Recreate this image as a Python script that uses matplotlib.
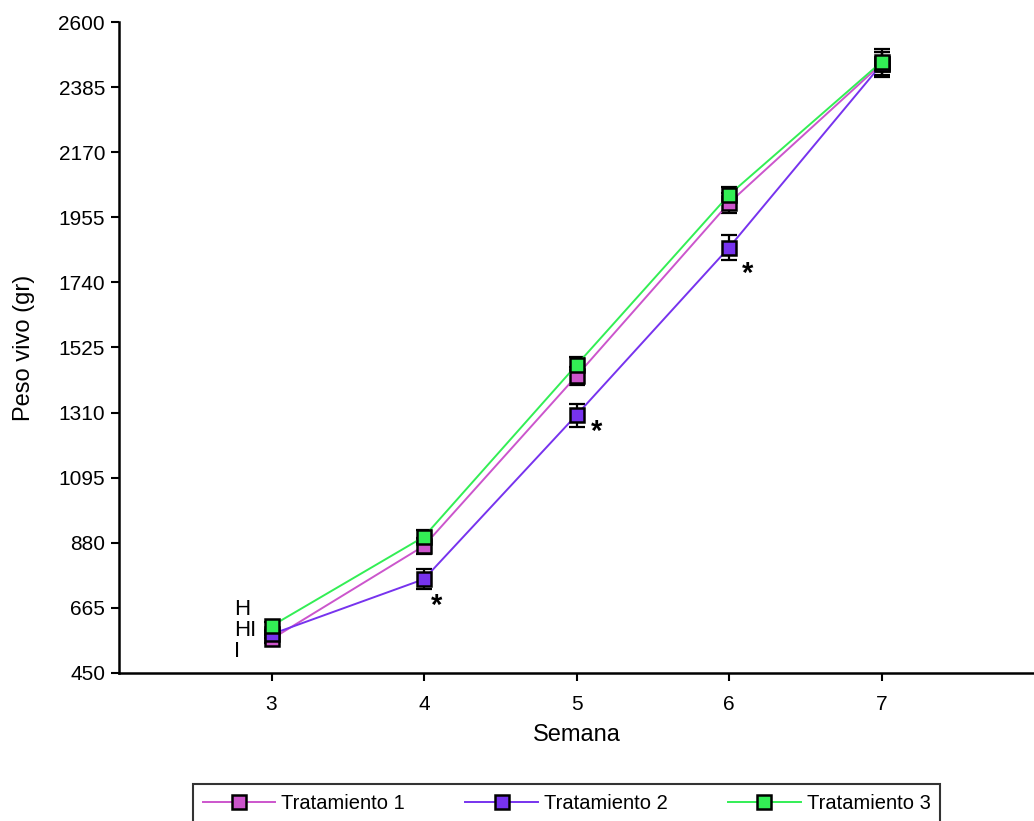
import matplotlib
matplotlib.use("Agg")
import matplotlib.pyplot as plt

plt.rcParams['font.family'] = ['Liberation Sans', 'DejaVu Sans']

semanas = [3, 4, 5, 6, 7]
tratamientos = ["Tratamiento 1", "Tratamiento 2", "Tratamiento 3"]
peso_t1 = [562, 870, 1431, 2002, 2462]
peso_t2 = [578, 760, 1302, 1855, 2460]
peso_t3 = [605, 900, 1467, 2029, 2468]
ee_t1 = [12, 26, 30, 32, 40]
ee_t2 = [12, 33, 38, 42, 40]
ee_t3 = [12, 22, 25, 26, 44]
colores = ["#CC55CC", "#7733EE", "#33EE55"]

# asteriscos de diferencia significativa
ast_x = [4.08, 5.13, 6.12]
ast_y = [670, 1245, 1768]
# letras de la semana 3
letras = ["H", "HI", "I"]
letras_y = [661, 589, 522]

yticks = [450, 665, 880, 1095, 1310, 1525, 1740, 1955, 2170, 2385, 2600]

fig = plt.figure(figsize=(10.34, 8.21), dpi=100)
ax = fig.add_axes([119/1034, 1 - 673/821, 915/1034, 651/821])

series = [peso_t1, peso_t2, peso_t3]
errores = [ee_t1, ee_t2, ee_t3]
handles = []
for nombre, y, e, c in zip(tratamientos, series, errores, colores):
    ax.errorbar(semanas, y, yerr=e, fmt='none', ecolor='black', elinewidth=1.6,
                capsize=6, capthick=1.6, zorder=2)
    h, = ax.plot(semanas, y, color=c, lw=1.4, marker='s', markersize=9.5,
                 markerfacecolor=c, markeredgecolor='black', markeredgewidth=1.8,
                 label=nombre, zorder=3)
    handles.append(h)

for x, y in zip(ast_x, ast_y):
    ax.text(x, y, "*", fontsize=21, fontweight='bold', ha='center', va='center')
for t, y in zip(letras, letras_y):
    ax.text(2.755, y, t, fontsize=16, ha='left', va='center')

ax.set_xlim(2, 8)
ax.set_ylim(450, 2600)
ax.set_xticks(semanas)
ax.set_yticks(yticks)
ax.tick_params(labelsize=15, width=1.5, length=6, direction='out', pad=4)
ax.tick_params(axis='x', pad=10)
ax.spines['top'].set_visible(False)
ax.spines['right'].set_visible(False)
ax.spines['left'].set_linewidth(1.8)
ax.spines['bottom'].set_linewidth(1.8)
ax.set_xlabel("Semana", fontsize=17, labelpad=7)
ax.set_ylabel("Peso vivo (gr)", fontsize=17, labelpad=17)

leg = fig.legend(handles=handles, loc='upper center', ncol=3,
                 bbox_to_anchor=(566.5/1034, 1 - 784/821),
                 fontsize=14.5, frameon=True, fancybox=False, edgecolor='black',
                 handlelength=3.6, handletextpad=0.3, columnspacing=3.0,
                 borderaxespad=0, borderpad=0.5)
leg.get_frame().set_linewidth(1.5)

fig.savefig("out.png", dpi=100)
